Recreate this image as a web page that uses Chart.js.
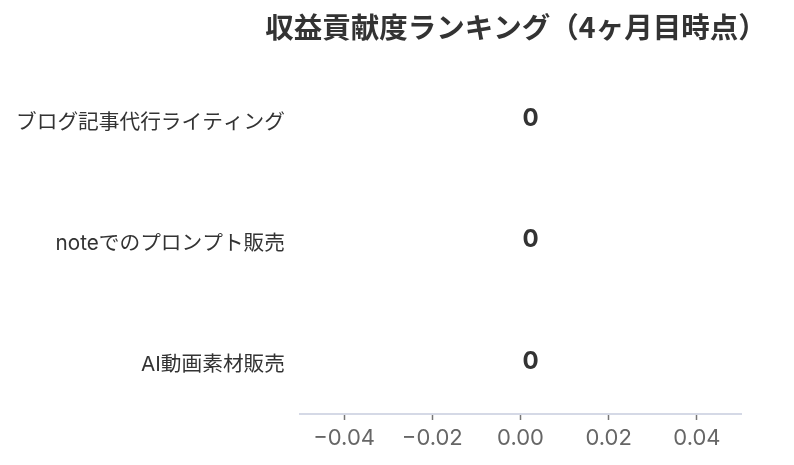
<!DOCTYPE html>
<html><head><meta charset="utf-8">
<script src="https://cdn.jsdelivr.net/npm/chart.js@4.4.1/dist/chart.umd.min.js"></script>
<style>html,body{margin:0;padding:0;background:#fff}#wrap{width:794px;height:465px}</style>
</head><body><div id="wrap"><canvas id="c"></canvas></div>
<script>
const titleText = '収益貢献度ランキング（4ヶ月目時点）';
const categories = ['ブログ記事代行ライティング', 'noteでのプロンプト販売', 'AI動画素材販売'];
const revenue = [0, 0, 0];
const xTicks = [-0.04, -0.02, 0.00, 0.02, 0.04];
const xMin = -0.05, xMax = 0.05;

const FONT = "Inter, 'Noto Sans CJK JP', sans-serif";
const TITLE_FONT = "'Noto Sans CJK JP', sans-serif";

const titlePlugin = {
  id: 'titleText',
  afterDraw(chart) {
    const ctx = chart.ctx;
    ctx.save();
    ctx.font = "bold 28.5px " + TITLE_FONT;
    ctx.fillStyle = '#333333';
    ctx.textAlign = 'center';
    ctx.textBaseline = 'middle';
    ctx.fillText(titleText, 516, 27);
    ctx.restore();
  }
};

const valueLabels = {
  id: 'valueLabels',
  afterDatasetsDraw(chart) {
    const ctx = chart.ctx;
    const meta = chart.getDatasetMeta(0);
    ctx.save();
    ctx.font = "bold 24px " + FONT;
    ctx.fillStyle = '#333333';
    ctx.textAlign = 'left';
    ctx.textBaseline = 'middle';
    meta.data.forEach((bar, i) => {
      ctx.fillText(String(revenue[i]), bar.x + 2, bar.y);
    });
    ctx.restore();
  }
};

new Chart(document.getElementById('c'), {
  type: 'bar',
  data: {
    datasets: [{
      data: revenue.map((v, i) => ({ x: v, y: i })),
      backgroundColor: '#4e79a7', borderWidth: 0, barPercentage: 0.8
    }]
  },
  options: {
    indexAxis: 'y',
    responsive: true,
    maintainAspectRatio: false,
    animation: false,
    layout: { padding: { left: 0, right: 53, top: 58.5, bottom: 0 } },
    plugins: {
      legend: { display: false },
      tooltip: { enabled: false },
      title: { display: false }
    },
    scales: {
      x: {
        type: 'linear',
        min: xMin, max: xMax,
        afterBuildTicks(axis) { axis.ticks = xTicks.map(v => ({ value: v })); },
        afterFit(axis) { axis.height = 51; },
        grid: { display: true, drawOnChartArea: false, drawTicks: true, tickLength: 6, tickColor: '#777777', tickWidth: 1.5 },
        border: { display: true, color: '#d5d9e6', width: 2 },
        ticks: {
          color: '#666666', font: { family: FONT, size: 22 }, padding: 5,
          callback: v => (v < 0 ? '\u2212' : '') + Math.abs(v).toFixed(2)
        }
      },
      y: {
        type: 'linear',
        reverse: true,
        offset: false,
        min: -0.5, max: 2.434,
        afterBuildTicks(axis) { axis.ticks = categories.map((c, i) => ({ value: i })); },
        afterFit(axis) { axis.width = 300; },
        grid: { display: false, drawTicks: false },
        border: { display: false },
        ticks: {
          color: '#333333', font: { family: FONT, size: 20.7 }, padding: 15, labelOffset: 3.5,
          callback: v => categories[v]
        }
      }
    }
  },
  plugins: [valueLabels, titlePlugin]
});
</script></body></html>
